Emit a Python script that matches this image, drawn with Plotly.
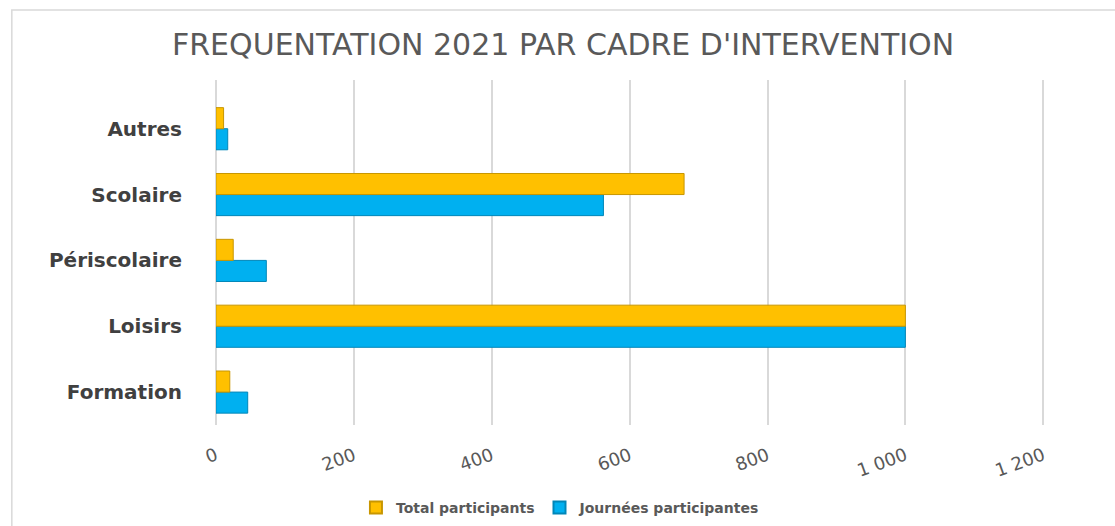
import plotly.graph_objects as go

categories = ["Formation", "Loisirs", "Périscolaire", "Scolaire", "Autres"]
total_participants = [20, 1000, 25, 679, 11]
journees_participantes = [46, 1000, 73, 562, 17]
tick_values = [0, 200, 400, 600, 800, 1000, 1200]

title_text = "FREQUENTATION 2021 PAR CADRE D'INTERVENTION"

fig = go.Figure()
fig.add_trace(go.Bar(
    y=categories, x=journees_participantes, orientation="h",
    name="Journées participantes",
    marker=dict(color="#00B0F0", line=dict(color="#0086B8", width=1)),
    legendrank=2,
))
fig.add_trace(go.Bar(
    y=categories, x=total_participants, orientation="h",
    name="Total participants",
    marker=dict(color="#FFC000", line=dict(color="#C89600", width=1)),
    legendrank=1,
))

fig.update_layout(
    width=1115, height=526,
    paper_bgcolor="white", plot_bgcolor="white",
    barmode="group", bargap=0.36, bargroupgap=0,
    separators=", ",
    margin=dict(l=216, r=69, t=80, b=101, autoexpand=False),
    title=dict(text=title_text, x=0.505, xanchor="center", y=0.915, yanchor="middle",
               font=dict(family="DejaVu Sans", size=30, color="#595959")),
    xaxis=dict(range=[0, 1204], tickvals=tick_values, tickformat=",d",
               showgrid=True, gridcolor="#D9D9D9", gridwidth=1.5,
               zeroline=True, zerolinecolor="#D9D9D9", zerolinewidth=1.5,
               showline=False, tickangle=-20, ticks="", ticklen=0,
               automargin=False, ticklabelstandoff=16,
               tickfont=dict(family="DejaVu Sans", size=18, color="#595959")),
    yaxis=dict(categoryorder="array", categoryarray=categories,
               range=[-0.5, 4.74],
               showgrid=False, showline=False, ticks="", ticklen=0,
               automargin=False, ticklabelstandoff=33,
               tickfont=dict(family="DejaVu Sans", size=20, color="#404040", weight="bold")),
    legend=dict(orientation="h", x=0.415, xanchor="center", y=-0.24, yanchor="middle",
                font=dict(family="DejaVu Sans", size=14, color="#595959", weight="bold"),
                itemwidth=30, itemsizing="constant", traceorder="normal"),
    shapes=[dict(type="rect", xref="paper", yref="paper",
                 x0=-0.246, x1=1.12, y0=-0.33, y1=1.203,
                 line=dict(color="#D9D9D9", width=1.5), fillcolor="rgba(0,0,0,0)",
                 layer="below")],
)

fig.write_html("out.html", config={"displayModeBar": False},
               post_script="document.body.style.margin='0';")
